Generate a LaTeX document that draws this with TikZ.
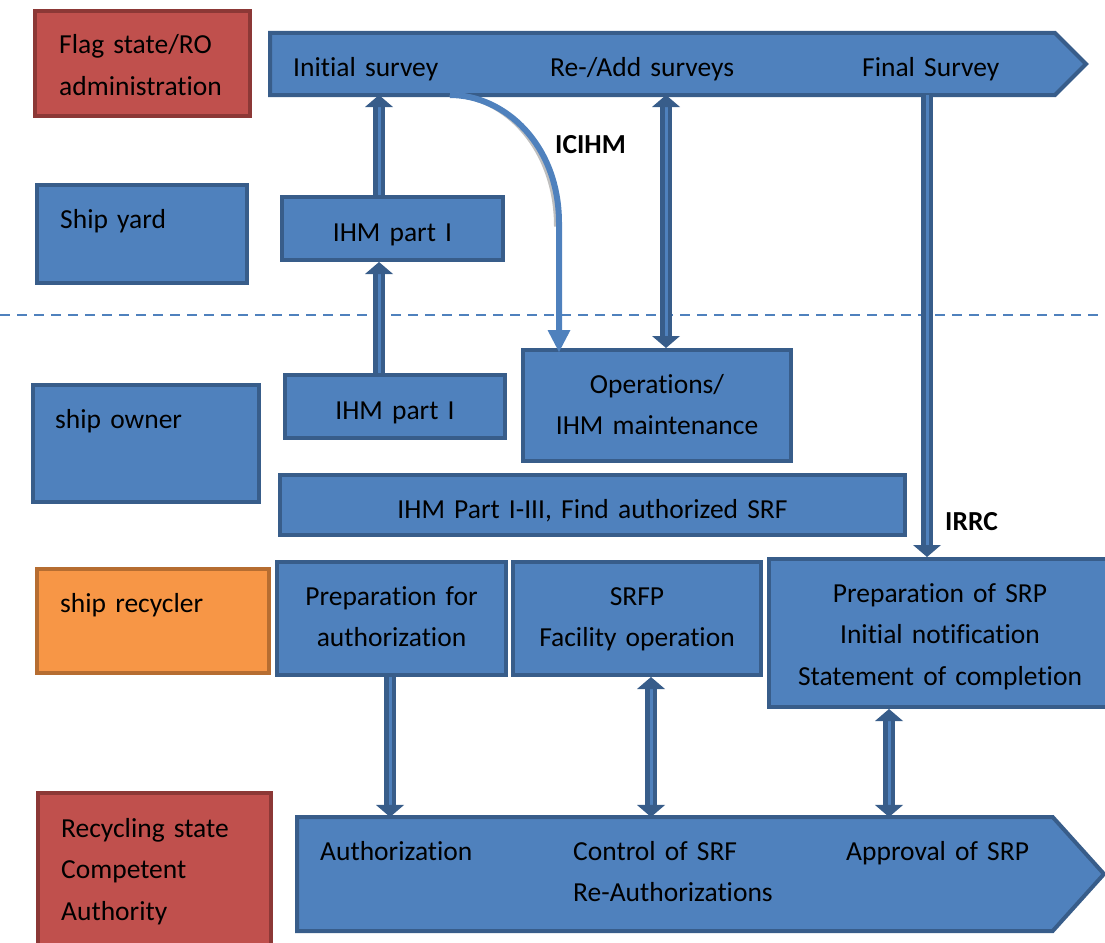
\documentclass[tikz,border=0pt]{standalone}
\usepackage{fontspec}
\setmainfont{Carlito}[Ligatures=NoCommon]
\usetikzlibrary{shapes.arrows,calc}

\definecolor{fillblue}{HTML}{4F81BD}
\definecolor{edgeblue}{HTML}{385D8A}
\definecolor{fillred}{HTML}{C0504D}
\definecolor{edgered}{HTML}{8C3836}
\definecolor{fillorange}{HTML}{F79646}
\definecolor{edgeorange}{HTML}{B66D31}
\definecolor{shadowgray}{HTML}{BFBFBF}

\tikzset{
  box/.style={draw=edgeblue, fill=fillblue, line width=4pt, inner sep=0pt,
    outer sep=2pt, anchor=north west},
  redbox/.style={box, draw=edgered, fill=fillred},
  orangebox/.style={box, draw=edgeorange, fill=fillorange},
  bar/.style={single arrow, draw=edgeblue, fill=fillblue, line width=4pt,
    inner sep=0pt, outer sep=0pt, single arrow head extend=0pt, anchor=tip},
  txt/.style={font=\fontsize{27.5}{41.5}\selectfont, inner sep=0pt, text=black},
  lefttxt/.style={txt, anchor=base west, text width=240pt, align=left},
  ctxt/.style={txt, anchor=base, align=center},
  boldtxt/.style={txt, anchor=base west, font=\fontsize{27.5}{41.5}\selectfont\bfseries},
  shaft/.style={draw=edgeblue, line width=12pt},
  stripe/.style={draw=fillblue, line width=3pt},
  headfill/.style={fill=edgeblue},
  lanesep/.style={draw=fillblue, line width=2pt, dash pattern=on 10pt off 7pt},
  ciarrow/.style={draw=fillblue, line width=6pt},
  cishadow/.style={draw=shadowgray, line width=5pt},
}

% block arrows drawn between two points: shaft, light stripe, heads
\newcommand{\blkup}[2]{%
  \draw[shaft, shorten >=10pt] #1 -- #2;
  \draw[stripe, shorten >=12pt] #1 -- #2;
  \fill[headfill] #2 -- ++(-14,12) -- ++(28,0) -- cycle;}
\newcommand{\blkdown}[2]{%
  \draw[shaft, shorten >=10pt] #1 -- #2;
  \draw[stripe, shorten >=12pt] #1 -- #2;
  \fill[headfill] #2 -- ++(-14,-12) -- ++(28,0) -- cycle;}
\newcommand{\blkboth}[2]{% #1 upper tip, #2 lower tip
  \draw[shaft, shorten >=10pt, shorten <=10pt] #1 -- #2;
  \draw[stripe, shorten >=12pt, shorten <=12pt] #1 -- #2;
  \fill[headfill] #1 -- ++(-14,12) -- ++(28,0) -- cycle;
  \fill[headfill] #2 -- ++(-14,-12) -- ++(28,0) -- cycle;}

\begin{document}
\begin{tikzpicture}[x=1pt, y=-1pt]
\useasboundingbox (0,0) rectangle (1105,942);

% separator between the authorities and the industry lanes
\draw[lanesep] (0,315) -- (1105,315);

% lane headers
\node[redbox, minimum width=215pt, minimum height=105pt] (flag) at (33,9) {};
\node[box, minimum width=210pt, minimum height=98pt] (yard) at (35,183) {};
\node[box, minimum width=226pt, minimum height=117pt] (owner) at (31,383) {};
\node[orangebox, minimum width=232pt, minimum height=104pt] (recycler) at (35,567) {};
\node[redbox, minimum width=233pt, minimum height=160pt] (recstate) at (36,791) {};

\node[lefttxt] (flagtxt) at (59,54) {Flag state/RO\\administration};
\node[lefttxt] (yardtxt) at (60,228) {Ship yard};
\node[lefttxt] (ownertxt) at (55,428) {ship owner};
\node[lefttxt] (recyclertxt) at (60,612) {ship recycler};
\node[lefttxt] (recstatetxt) at (61,837) {Recycling state\\Competent\\Authority};

% survey timeline of the flag state
\node[bar, minimum height=816pt, minimum width=62pt, single arrow tip angle=90] (topbar) at (1086,64) {};
\node[lefttxt] (initial) at (293,76) {Initial survey};
\node[lefttxt] (readd) at (550,76) {Re-/Add surveys};
\node[lefttxt] (final) at (862,76) {Final Survey};

% recycling state timeline
\node[bar, minimum height=807pt, minimum width=114pt, single arrow tip angle=96] (botbar) at (1104,874) {};
\node[lefttxt] (authz) at (320,860) {Authorization};
\node[lefttxt] (control) at (573,860) {Control of SRF\\Re-Authorizations};
\node[lefttxt] (approval) at (846,860) {Approval of SRP};

% process boxes
\node[box, minimum width=221pt, minimum height=63pt] (ihmyard) at (280,195) {};
\node[box, minimum width=220pt, minimum height=63pt] (ihmowner) at (283,373) {};
\node[box, minimum width=268pt, minimum height=111pt] (ops) at (521,348) {};
\node[box, minimum width=625pt, minimum height=60pt] (ihmall) at (278,473) {};
\node[box, minimum width=229pt, minimum height=113pt] (prepauth) at (275,560) {};
\node[box, minimum width=248pt, minimum height=113pt] (srfp) at (511,560) {};
\node[box, minimum width=342pt, minimum height=148pt] (prepsrp) at (767,557) {};

\node[ctxt, text width=220pt] (ihmyardtxt) at (392.5,241) {IHM part I};
\node[ctxt, text width=220pt] (ihmownertxt) at (395,419) {IHM part I};
\node[ctxt, text width=260pt] (opstxt) at (657,393) {Operations/\\IHM maintenance};
\node[ctxt, text width=600pt] (ihmalltxt) at (592.5,518) {IHM Part I-III, Find authorized SRF};
\node[ctxt, text width=225pt] (prepauthtxt) at (391.5,605) {Preparation for\\authorization};
\node[ctxt, text width=245pt] (srfptxt) at (637,605) {SRFP\\Facility operation};
\node[ctxt, text width=330pt] (prepsrptxt) at (940,602) {Preparation of SRP\\Initial notification\\Statement of completion};

% columns of the connectors
\coordinate (colA) at (379,0);
\coordinate (colB) at (666,0);
\coordinate (colC) at (927,0);
\coordinate (colD) at (390,0);
\coordinate (colE) at (651,0);
\coordinate (colF) at (889,0);
\coordinate (icS) at (450,0);
\coordinate (icX) at (559,0);

\blkup{(colA |- ihmyard.north)}{(colA |- topbar.south)}
\blkup{(colA |- ihmowner.north)}{(colA |- ihmyard.south)}
\blkboth{(colB |- topbar.south)}{(colB |- ops.north)}
\blkdown{(colC |- topbar.south)}{(colC |- prepsrp.north)}
\blkdown{(colD |- prepauth.south)}{(colD |- botbar.north)}
\blkboth{(colE |- srfp.south)}{(colE |- botbar.north)}
\blkboth{(colF |- prepsrp.south)}{(colF |- botbar.north)}

% ICIHM hand-over from the initial survey to the owner
\coordinate (icTip) at ($(icX |- ops.north)+(0,4)$);
\draw[cishadow, xshift=-2.5pt, yshift=-3.5pt] (icS |- topbar.south) .. controls +(55,0) and +(0,-78) .. (559,223);
\draw[ciarrow] (icS |- topbar.south) .. controls +(55,0) and +(0,-78) .. (559,223) -- ($(icTip)+(0,-20)$);
\fill[fillblue] (icTip) -- ++(-11.5,-22) -- ++(23,0) -- cycle;

\node[boldtxt] (icihm) at (555,153) {ICIHM};
\node[boldtxt] (irrc) at (945,530) {IRRC};
\end{tikzpicture}
\end{document}
